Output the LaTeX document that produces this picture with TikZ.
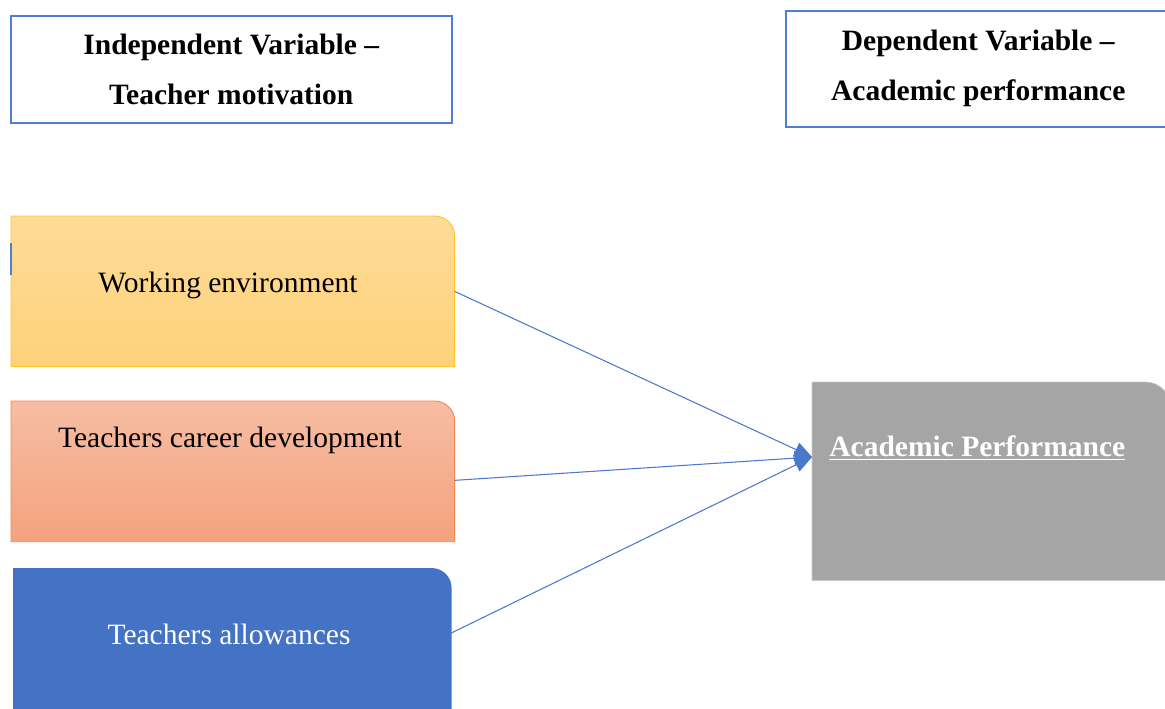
\documentclass[tikz,border=0pt]{standalone}
\usepackage{fontspec}
\setmainfont{Liberation Serif}
\usetikzlibrary{arrows.meta,calc}
\definecolor{hdrblue}{HTML}{4F7FD0}
\definecolor{weTop}{HTML}{FEDB98}
\definecolor{weBot}{HTML}{FED27A}
\definecolor{weLine}{HTML}{FFC629}
\definecolor{cdTop}{HTML}{F7BDA4}
\definecolor{cdBot}{HTML}{F4A27D}
\definecolor{cdLine}{HTML}{EE8A50}
\definecolor{alBlue}{HTML}{4472C4}
\definecolor{apGrey}{HTML}{A5A5A5}
\definecolor{connBlue}{HTML}{4A78CC}
\newcommand\rtbox[3]{%
  \shade[#2] (#1.south west) -- (#1.north west) -- ($(#1.north east)+(-#3,0)$)
    arc[start angle=90,end angle=0,radius=#3] -- (#1.south east) -- cycle;}
\tikzset{
  hdr/.style={draw=hdrblue, line width=0.9pt, anchor=north west, inner sep=0pt,
    align=center, font=\fontsize{16.8pt}{28.5pt}\selectfont\bfseries},
  frame/.style={anchor=north west, inner sep=0pt},
  bodytxt/.style={font=\fontsize{16.8pt}{19pt}\selectfont, inner sep=1pt},
  conn/.style={draw=connBlue, line width=0.6pt, -{Triangle[length=10pt,width=8.5pt]}}
}
\begin{document}
\begin{tikzpicture}[x=0.02cm,y=-0.02cm]
\useasboundingbox (0,0) rectangle (1165,708);
% headers
\node[hdr, minimum width=8.82cm, minimum height=2.14cm] (ind) at (10,15)
  {Independent Variable --\\Teacher motivation};
\node[hdr, minimum width=7.7cm, minimum height=2.32cm] (dep) at (785,10)
  {Dependent Variable --\\Academic performance};
% frames
\node[frame, minimum width=8.86cm, minimum height=3cm] (we) at (11,216) {};
\node[frame, minimum width=8.86cm, minimum height=2.8cm] (cd) at (11,401) {};
\node[frame, minimum width=8.76cm, minimum height=3.04cm] (al) at (13,568) {};
\node[frame, minimum width=7.16cm, minimum height=3.96cm] (ap) at (812,382) {};
\rtbox{we}{top color=weTop, bottom color=weBot, draw=weLine, line width=0.5pt}{0.4cm}
\rtbox{cd}{top color=cdTop, bottom color=cdBot, draw=cdLine, line width=0.5pt}{0.4cm}
\rtbox{al}{top color=alBlue, bottom color=alBlue}{0.4cm}
\rtbox{ap}{top color=apGrey, bottom color=apGrey, draw=gray!40, line width=0.4pt}{0.5cm}
\draw[draw=hdrblue, line width=1.2pt] (11,243) -- (11,275);
% texts
\node[bodytxt] (wet) at (228,285) {Working environment};
\node[bodytxt] (cdt) at (230,440) {Teachers career development};
\node[bodytxt, text=white] (alt) at (229,634) {Teachers allowances};
\node[anchor=west, inner sep=0pt, text=white, font=\fontsize{16.8pt}{19pt}\selectfont\bfseries]
  (apt) at (829,448) {\underline{Academic Performance}};
% connectors
\coordinate (tgt) at (812,457);
\draw[conn] (we.east) -- (tgt);
\draw[conn] ($(cd.east)+(0,9)$) -- (tgt);
\draw[conn] ($(al.east)+(-1,-11)$) -- (tgt);
\end{tikzpicture}
\end{document}
